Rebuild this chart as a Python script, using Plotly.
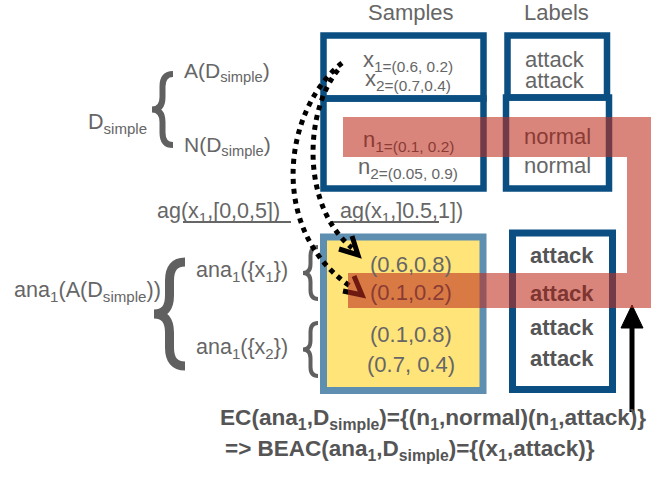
import plotly.graph_objects as go

# ---- text content (data) ----
header_labels = ["Samples", "Labels"]
sample_texts = ["x<sub>1=(0.6, 0.2)</sub>", "x<sub>2=(0.7,0.4)</sub>",
                "n<sub>1=(0.1, 0.2)</sub>", "n<sub>2=(0.05, 0.9)</sub>"]
label_texts = ["attack", "attack", "normal", "normal"]
set_texts = ["A(D<sub>simple</sub>)", "N(D<sub>simple</sub>)", "D<sub>simple</sub>"]
ag_texts = ["ag(x<sub>1</sub>,[0,0,5])", "ag(x<sub>1</sub>,]0.5,1])"]
ana_texts = ["ana<sub>1</sub>(A(D<sub>simple</sub>))", "ana<sub>1</sub>({x<sub>1</sub>})",
             "ana<sub>1</sub>({x<sub>2</sub>})"]
ana_values = ["(0.6,0.8)", "(0.1,0.2)", "(0.1,0.8)", "(0.7, 0.4)"]
ana_labels = ["attack", "attack", "attack", "attack"]
result_texts = ["EC(ana<sub>1</sub>,D<sub>simple</sub>)={(n<sub>1</sub>,normal)(n<sub>1</sub>,attack)}",
                "=> BEAC(ana<sub>1</sub>,D<sub>simple</sub>)={(x<sub>1</sub>,attack)}"]

W, H = 651, 479
FONT = "Liberation Sans"
GRAY = "#666666"
DGRAY = "#555555"
REDTXT = "#8a3b34"
BLUE = "#0b4f82"
STEEL = "#5e8eb0"
YELLOW = "#ffe47a"
REDFILL = "rgba(190,45,30,0.58)"

fig = go.Figure()
shapes = []
ann = []

def text(x, y, t, size=21, color=GRAY, bold=False, xanchor="center"):
    if bold:
        t = "<b>" + t + "</b>"
    ann.append(dict(x=x, y=y, text=t, showarrow=False, xanchor=xanchor, yanchor="middle",
                    font=dict(family=FONT, size=size, color=color)))

def rect(x0, y0, x1, y1, color, width, fill="rgba(0,0,0,0)"):
    shapes.append(dict(type="rect", x0=x0, y0=y0, x1=x1, y1=y1,
                       line=dict(color=color, width=width), fillcolor=fill))

def brace(xr, xl, y0, y1, width, color="#606060"):
    w = xr - xl
    xm = xl + w * 0.5
    ym = (y0 + y1) / 2
    r = min(w * 0.6, (y1 - y0) / 4)
    p = (f"M {xr},{y0} Q {xm},{y0} {xm},{y0 + r} L {xm},{ym - r} "
         f"Q {xm},{ym} {xl},{ym} Q {xm},{ym} {xm},{ym + r} "
         f"L {xm},{y1 - r} Q {xm},{y1} {xr},{y1}")
    shapes.append(dict(type="path", path=p, line=dict(color=color, width=width)))

def path(p, color, width, dash="solid", fill=None):
    d = dict(type="path", path=p, line=dict(color=color, width=width, dash=dash))
    if fill:
        d["fillcolor"] = fill
    shapes.append(d)

# yellow box
rect(323.5, 237, 483, 390.5, STEEL, 7, YELLOW)
# sample boxes
rect(323.5, 35.5, 483.5, 98.5, BLUE, 6.5)
rect(323.5, 98.5, 483.5, 188.5, BLUE, 6.5)
# label boxes
rect(507.5, 35.5, 607, 97.5, BLUE, 6.5)
rect(506, 97.5, 609, 188.5, BLUE, 6.5)
rect(512.5, 233, 612.5, 389.5, BLUE, 7)

# braces
brace(173, 152, 74, 145, 6)
brace(185, 154, 262, 366, 9)
brace(318, 303, 247, 299, 4)
brace(318, 303, 323, 376, 4)

# underlines
shapes.append(dict(type="line", x0=183, x1=291, y0=222, y1=222, line=dict(color="#333333", width=1.5)))
shapes.append(dict(type="line", x0=330, x1=439, y0=222, y1=222, line=dict(color="#333333", width=1.5)))

# dotted curves
path("M 342,63 C 283,110 268,230 350,286", "black", 5, "dot")
path("M 338,70 C 305,110 300,205 352,248", "black", 5, "dot")
# chevron arrowheads
path("M 339,249 L 358,255 L 352,236", "black", 5)
path("M 343,291 L 362,295 L 354,276", "black", 5)

# black arrow
shapes.append(dict(type="line", x0=632, x1=632, y0=325, y1=412, line=dict(color="black", width=5)))
path("M 632,305 L 643,328 L 621,328 Z", "black", 1, fill="black")

# red overlay band
path("M 343,117 L 651,117 L 651,308 L 348,308 L 348,273 L 627,273 L 627,157 L 343,157 Z",
     "rgba(0,0,0,0)", 0, fill=REDFILL)

# headers
text(411, 12, header_labels[0], 22)
text(556, 12, header_labels[1], 22)
# samples
text(408, 61, sample_texts[0], 22)
text(408, 80, sample_texts[1], 22)
text(408, 141, sample_texts[2], 22, REDTXT)
text(408, 168, sample_texts[3], 22)
# labels
text(555, 59, label_texts[0], 22)
text(555, 80, label_texts[1], 22)
text(557, 136, label_texts[2], 22, REDTXT)
text(557, 165, label_texts[3], 22)
# set labels
text(182, 72, set_texts[0], 21, xanchor="left")
text(182, 146, set_texts[1], 21, xanchor="left")
text(86, 123, set_texts[2], 21.5, xanchor="left")
# ag labels
text(155, 212, ag_texts[0], 21.5, xanchor="left")
text(338, 212, ag_texts[1], 21.5, xanchor="left")
# ana labels
text(12, 291, ana_texts[0], 21.6, xanchor="left")
text(194, 271, ana_texts[1], 21.5, xanchor="left")
text(194, 348, ana_texts[2], 21.5, xanchor="left")
# ana values
text(411, 264, ana_values[0], 22)
text(411, 292, ana_values[1], 22, REDTXT)
text(411, 334, ana_values[2], 22)
text(411, 364, ana_values[3], 22)
# ana labels (bold)
text(562, 255, ana_labels[0], 22, DGRAY, True)
text(562, 293, ana_labels[1], 22, "#7f3530", True)
text(562, 327, ana_labels[2], 22, DGRAY, True)
text(562, 358, ana_labels[3], 22, DGRAY, True)
# results
text(218, 419, result_texts[0], 22.6, DGRAY, True, xanchor="left")
text(223, 450, result_texts[1], 22.5, DGRAY, True, xanchor="left")

fig.update_layout(
    width=W, height=H, margin=dict(l=0, r=0, t=0, b=0),
    paper_bgcolor="white", plot_bgcolor="white",
    xaxis=dict(range=[0, W], visible=False, fixedrange=True),
    yaxis=dict(range=[H, 0], visible=False, fixedrange=True),
    shapes=shapes, annotations=ann, showlegend=False,
)
fig.write_html("out.html", config={"displayModeBar": False},
               post_script="document.body.style.margin='0';document.body.style.overflow='hidden';")
